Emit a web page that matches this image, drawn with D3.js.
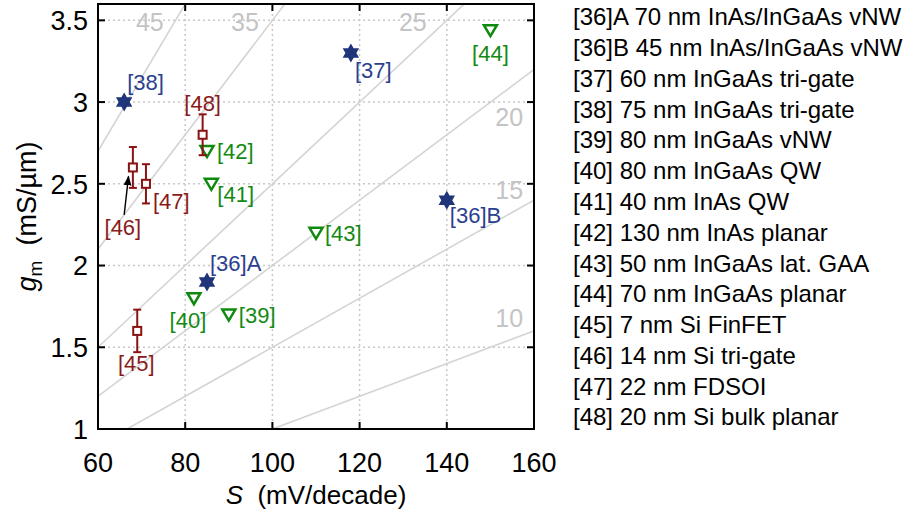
<!DOCTYPE html>
<html><head><meta charset="utf-8">
<script src="https://cdn.jsdelivr.net/npm/d3@7"></script>
<style>body{margin:0;background:#fff;} text{font-family:"Liberation Sans",Arial,sans-serif;}</style>
</head><body><svg id="c" width="908" height="514"></svg>
<script>
// ---- data ----
const refs = ["[36]A","[36]B","[37]","[38]","[39]","[40]","[41]","[42]","[43]","[44]","[45]","[46]","[47]","[48]"];
const sValues = [85,140,118,66,90,82,86,85,110,150,69,68,71,84];
const gmValues = [1.9,2.4,3.3,3.0,1.7,1.8,2.5,2.7,2.2,3.44,1.6,2.6,2.5,2.8];
const markerType = ["star","star","star","star","tri","tri","tri","tri","tri","tri","sq","sq","sq","sq"];
const gmErr = [0,0,0,0,0,0,0,0,0,0,0.13,0.125,0.12,0.125];
const legendLabels = ["[36]A 70 nm InAs/InGaAs vNW","[36]B 45 nm InAs/InGaAs vNW","[37] 60 nm InGaAs tri-gate","[38] 75 nm InGaAs tri-gate","[39] 80 nm InGaAs vNW","[40] 80 nm InGaAs QW","[41] 40 nm InAs QW","[42] 130 nm InAs planar","[43] 50 nm InGaAs lat. GAA","[44] 70 nm InGaAs planar","[45] 7 nm Si FinFET","[46] 14 nm Si tri-gate","[47] 22 nm FDSOI","[48] 20 nm Si bulk planar"];
const contourQ = [45,35,25,20,15,10];
const xTicks = [60,80,100,120,140,160];
const yTicks = [1,1.5,2,2.5,3,3.5];
const arrow46 = [[66.0,2.31],[67.0,2.545]];

// ---- layout ----
const L=98,R=534,T=4,B=429;
const svg=d3.select("#c");
const x=d3.scaleLinear().domain([60,160]).range([L,R]);
const y=d3.scaleLinear().domain([1,3.6]).range([B,T]);
const colors={star:"#1f3479",tri:"#0f8a0f",sq:"#8b1212"};
const textColors={star:"#2b3f8f",tri:"#138a13",sq:"#8b1a1a"};
// label offsets (px): dx, dy(center), anchor
const labelPos=[[3,-19,"start"],[3,15,"start"],[4,17,"start"],[3,-20,"start"],[10,1,"start"],[-6,22,"middle"],[6,10,"start"],[10,0,"start"],[9,0,"start"],[0,23,"middle"],[-1,32,"middle"],[-10,60,"middle"],[7,17,"start"],[0,-31,"middle"]];

svg.append("defs").append("clipPath").attr("id","clip").append("rect").attr("x",L).attr("y",T).attr("width",R-L).attr("height",B-T);
svg.select("defs").append("marker").attr("id","ah").attr("viewBox","0 0 10 10").attr("refX",9).attr("refY",5)
  .attr("markerWidth",7).attr("markerHeight",7).attr("orient","auto").append("path").attr("d","M0,1 L10,5 L0,9 Z").attr("fill","#000");

// grid
const g=svg.append("g");
g.selectAll(".gx").data(xTicks.slice(1,-1)).enter().append("line").attr("x1",d=>x(d)).attr("x2",d=>x(d)).attr("y1",T).attr("y2",B)
  .attr("stroke","#c8c8c8").attr("stroke-width",1.5).attr("stroke-dasharray","2,3");
g.selectAll(".gy").data(yTicks.slice(1)).enter().append("line").attr("y1",d=>y(d)).attr("y2",d=>y(d)).attr("x1",L).attr("x2",R)
  .attr("stroke","#c8c8c8").attr("stroke-width",1.5).attr("stroke-dasharray","2,3");

// contour lines gm = Q*S/1000
const cl=svg.append("g").attr("clip-path","url(#clip)");
const line=d3.line().x(d=>x(d[0])).y(d=>y(d[1]));
contourQ.forEach(q=>{
  cl.append("path").attr("d",line([[50,q*50/1000],[170,q*170/1000]])).attr("fill","none").attr("stroke","#d4d4d4").attr("stroke-width",1.6);
});
// contour labels
const cLabelPos=[[71.9,3.49,"middle"],[93.7,3.49,"middle"],[132.2,3.49,"middle"],[157.5,2.91,"end"],[157.5,2.46,"end"],[157.5,1.68,"end"]];
contourQ.forEach((q,i)=>{
  const p=cLabelPos[i];
  svg.append("text").attr("x",x(p[0])).attr("y",y(p[1])).attr("dy","0.35em").attr("text-anchor",p[2])
    .attr("font-size",25).attr("fill","#c4c4c4").text(q);
});

// frame + ticks
svg.append("rect").attr("x",L).attr("y",T).attr("width",R-L).attr("height",B-T).attr("fill","none").attr("stroke","#000").attr("stroke-width",2);
const tk=7;
xTicks.forEach(v=>{
  svg.append("line").attr("x1",x(v)).attr("x2",x(v)).attr("y1",B).attr("y2",B-tk).attr("stroke","#000").attr("stroke-width",2);
  svg.append("line").attr("x1",x(v)).attr("x2",x(v)).attr("y1",T).attr("y2",T+tk).attr("stroke","#000").attr("stroke-width",2);
  svg.append("text").attr("x",x(v)).attr("y",472).attr("text-anchor","middle").attr("font-size",27).attr("fill","#000").text(v);
});
yTicks.forEach(v=>{
  svg.append("line").attr("y1",y(v)).attr("y2",y(v)).attr("x1",L).attr("x2",L+tk).attr("stroke","#000").attr("stroke-width",2);
  svg.append("line").attr("y1",y(v)).attr("y2",y(v)).attr("x1",R).attr("x2",R-tk).attr("stroke","#000").attr("stroke-width",2);
  svg.append("text").attr("x",88).attr("y",y(v)).attr("dy","0.36em").attr("text-anchor","end").attr("font-size",27).attr("fill","#000").text(v);
});

// axis titles
const xt=svg.append("text").attr("x",(L+R)/2).attr("y",504).attr("text-anchor","middle").attr("font-size",26).attr("fill","#000");
xt.append("tspan").attr("font-style","italic").text("S");
xt.append("tspan").text("\u00a0 (mV/decade)");
const yt=svg.append("text").attr("transform","translate(36,"+((T+B)/2)+") rotate(-90)").attr("text-anchor","middle").attr("font-size",27).attr("fill","#000");
yt.append("tspan").attr("font-style","italic").text("g");
yt.append("tspan").attr("font-size",19).attr("dy",6).text("m");
yt.append("tspan").attr("dy",-6).text("\u00a0 (mS/\u00b5m)");

// arrow for [46]
svg.append("line").attr("x1",x(arrow46[0][0])).attr("y1",y(arrow46[0][1])).attr("x2",x(arrow46[1][0])).attr("y2",y(arrow46[1][1]))
  .attr("stroke","#000").attr("stroke-width",1.4).attr("marker-end","url(#ah)");

// markers
const hexStar=(()=>{const R0=9.5,r=R0/Math.sqrt(3);let pts=[];for(let k=0;k<12;k++){const a=-Math.PI/2+k*Math.PI/6;const rr=k%2?r:R0;pts.push([rr*Math.cos(a),rr*Math.sin(a)]);}return "M"+pts.map(p=>p.join(",")).join("L")+"Z";})();
const triPath="M-6.5,-5L6.5,-5L0,6Z";
const pts=refs.map((r,i)=>({r,s:sValues[i],gm:gmValues[i],t:markerType[i],e:gmErr[i],i}));
const mg=svg.append("g");
pts.forEach(p=>{
  const cx=x(p.s),cy=y(p.gm),c=colors[p.t];
  if(p.t==="sq"){
    const y1=y(p.gm+p.e),y2=y(p.gm-p.e);
    mg.append("line").attr("x1",cx).attr("x2",cx).attr("y1",y1).attr("y2",y2).attr("stroke",c).attr("stroke-width",2);
    [y1,y2].forEach(yy=>mg.append("line").attr("x1",cx-4).attr("x2",cx+4).attr("y1",yy).attr("y2",yy).attr("stroke",c).attr("stroke-width",2));
    mg.append("rect").attr("x",cx-4).attr("y",cy-4).attr("width",8).attr("height",8).attr("fill","#fff").attr("stroke",c).attr("stroke-width",2);
  } else if(p.t==="star"){
    mg.append("path").attr("d",hexStar).attr("transform",`translate(${cx},${cy})`).attr("fill",c);
  } else {
    mg.append("path").attr("d",triPath).attr("transform",`translate(${cx},${cy})`).attr("fill","#fff").attr("stroke",c).attr("stroke-width",2.5).attr("stroke-linejoin","miter");
  }
  const lp=labelPos[p.i];
  svg.append("text").attr("x",cx+lp[0]).attr("y",cy+lp[1]).attr("dy","0.35em").attr("text-anchor",lp[2])
    .attr("font-size",22).attr("fill",textColors[p.t]).text(p.r);
});

// legend
legendLabels.forEach((t,i)=>{
  svg.append("text").attr("x",573).attr("y",17+i*30.77).attr("dy","0.35em").attr("font-size",24).attr("fill","#000").text(t);
});
</script></body></html>
